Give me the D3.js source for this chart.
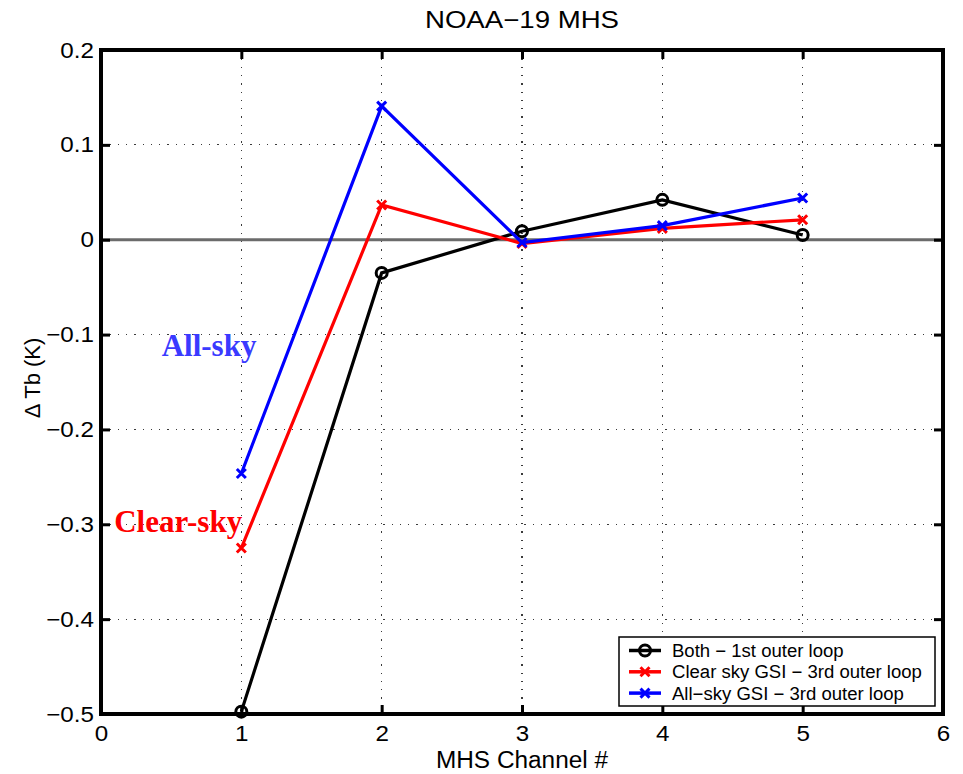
<!DOCTYPE html>
<html>
<head>
<meta charset="utf-8">
<script src="https://cdn.jsdelivr.net/npm/d3@7"></script>
<style>
  body { margin: 0; background: #fff; }
  svg { display: block; font-family: "Liberation Sans", Arial, sans-serif; }
</style>
</head>
<body>
<svg id="chart" width="963" height="774"></svg>
<script>
// MHS channel numbers and Tb differences per experiment
const channels = [1, 2, 3, 4, 5];
const bothFirstLoop = [-0.4975, -0.035, 0.009, 0.042, 0.005];
const clearSkyThird = [-0.325, 0.0366, -0.004, 0.012, 0.021];
const allSkyThird = [-0.2465, 0.1408, -0.003, 0.0148, 0.044];

const xTicks = [0, 1, 2, 3, 4, 5, 6];
const yTicks = [-0.5, -0.4, -0.3, -0.2, -0.1, 0, 0.1, 0.2];

const seriesList = [
  { name: "Both \u2212 1st outer loop", values: bothFirstLoop, color: "#000000", marker: "circle" },
  { name: "Clear sky GSI \u2212 3rd outer loop", values: clearSkyThird, color: "#ff0000", marker: "cross" },
  { name: "All\u2212sky GSI \u2212 3rd outer loop", values: allSkyThird, color: "#0000ff", marker: "cross" }
];

const margin = { left: 101, top: 50 };
const plotW = 943 - margin.left, plotH = 714 - margin.top;

const svg = d3.select("#chart");
const g = svg.append("g").attr("transform", `translate(${margin.left},${margin.top})`);

const x = d3.scaleLinear().domain([0, 6]).range([0, plotW]);
const y = d3.scaleLinear().domain([-0.5, 0.2]).range([plotH, 0]);

const fmt = d => d === 0 ? "0" : d3.format(".1f")(d).replace("-", "\u2212");

// widen text glyphs horizontally by factor k
function stretch(sel, k) {
  sel.each(function () {
    const w = this.getComputedTextLength();
    d3.select(this).attr("textLength", w * k).attr("lengthAdjust", "spacingAndGlyphs");
  });
}

// dotted grid
const gridStyle = s => s.attr("stroke", "#3a3a3a").attr("stroke-width", 1.2)
  .attr("stroke-dasharray", "1.3,7").attr("shape-rendering", "crispEdges");
g.append("g").selectAll("line").data(xTicks.slice(1, -1)).join("line")
  .attr("x1", d => x(d)).attr("x2", d => x(d)).attr("y1", 0).attr("y2", plotH).call(gridStyle);
g.append("g").selectAll("line").data(yTicks.slice(1, -1)).join("line")
  .attr("x1", 0).attr("x2", plotW).attr("y1", d => y(d)).attr("y2", d => y(d)).call(gridStyle);

// zero reference line
g.append("line").attr("x1", 0).attr("x2", plotW).attr("y1", y(0)).attr("y2", y(0))
  .attr("stroke", "#6b6b6b").attr("stroke-width", 3);

// axes with inward ticks
const tickLen = 9;
const axB = g.append("g").attr("transform", `translate(0,${plotH})`)
  .call(d3.axisBottom(x).tickValues(xTicks).tickSize(-tickLen).tickPadding(11).tickFormat(d3.format("d")));
const axT = g.append("g")
  .call(d3.axisTop(x).tickValues(xTicks).tickSize(-tickLen).tickFormat(""));
const axL = g.append("g")
  .call(d3.axisLeft(y).tickValues(yTicks).tickSize(-tickLen).tickPadding(7).tickFormat(fmt));
const axR = g.append("g").attr("transform", `translate(${plotW},0)`)
  .call(d3.axisRight(y).tickValues(yTicks).tickSize(-tickLen).tickFormat(""));
[axB, axT, axL, axR].forEach(a => {
  a.select(".domain").attr("stroke", "#000").attr("stroke-width", 4);
  a.selectAll(".tick line").attr("stroke", "#000").attr("stroke-width", 3);
  a.selectAll("text").attr("font-size", 22).attr("fill", "#000")
    .attr("font-family", "'Liberation Sans', Arial, sans-serif");
});
axL.select(".domain").attr("d", `M0,${plotH + 2}V-2`);
axR.select(".domain").attr("d", `M0,${plotH + 2}V-2`);
axB.select(".domain").attr("d", `M-2,0H${plotW + 2}`);
axT.select(".domain").attr("d", `M-2,0H${plotW + 2}`);
stretch(axL.selectAll("text"), 1.1);
stretch(axB.selectAll("text"), 1.1);

// series lines and markers
const line = d3.line().x((d, i) => x(channels[i])).y(d => y(d));
function drawMarker(sel, s, cx, cy) {
  if (s.marker === "circle") {
    sel.append("circle").attr("cx", cx).attr("cy", cy).attr("r", 5.5)
      .attr("fill", "none").attr("stroke", s.color).attr("stroke-width", 3);
  } else {
    const r = 4.5;
    sel.append("path")
      .attr("d", `M${cx - r},${cy - r}L${cx + r},${cy + r}M${cx - r},${cy + r}L${cx + r},${cy - r}`)
      .attr("stroke", s.color).attr("stroke-width", 3);
  }
}
seriesList.forEach(s => {
  const sg = g.append("g");
  sg.append("path").datum(s.values).attr("d", line)
    .attr("fill", "none").attr("stroke", s.color).attr("stroke-width", 3.2);
  s.values.forEach((v, i) => drawMarker(sg, s, x(channels[i]), y(v)));
});

// annotations
g.append("text").attr("x", x(0.77)).attr("y", y(-0.1225)).attr("text-anchor", "middle")
  .attr("font-family", "'Liberation Serif', 'Times New Roman', serif").attr("font-weight", "bold")
  .attr("font-size", 31).attr("fill", "#3a3aff").text("All-sky");
g.append("text").attr("x", x(0.55)).attr("y", y(-0.308)).attr("text-anchor", "middle")
  .attr("font-family", "'Liberation Serif', 'Times New Roman', serif").attr("font-weight", "bold")
  .attr("font-size", 31).attr("fill", "#ff0000").text("Clear-sky");

// legend
const lg = svg.append("g").attr("transform", "translate(619,637)");
lg.append("rect").attr("width", 316).attr("height", 69).attr("fill", "#fff")
  .attr("stroke", "#000").attr("stroke-width", 1.5);
seriesList.forEach((s, i) => {
  const cy = 13.5 + i * 21.3;
  lg.append("line").attr("x1", 10).attr("x2", 42).attr("y1", cy).attr("y2", cy)
    .attr("stroke", s.color).attr("stroke-width", 3.5);
  drawMarker(lg, s, 26, cy);
  lg.append("text").attr("x", 53).attr("y", cy + 6.5).attr("font-size", 18).attr("fill", "#000").text(s.name);
});
stretch(lg.selectAll("text"), 1.03);

// titles
const title = svg.append("text").attr("x", 522).attr("y", 28).attr("text-anchor", "middle")
  .attr("font-size", 24).text("NOAA\u221219 MHS");
const xLabel = svg.append("text").attr("x", 522).attr("y", 768).attr("text-anchor", "middle")
  .attr("font-size", 23).text("MHS Channel #");
svg.append("text").attr("transform", "translate(40,378) rotate(-90)")
  .attr("text-anchor", "middle").attr("font-size", 22).text("\u0394 Tb (K)");
stretch(title, 1.15);
stretch(xLabel, 1.06);
</script>
</body>
</html>
